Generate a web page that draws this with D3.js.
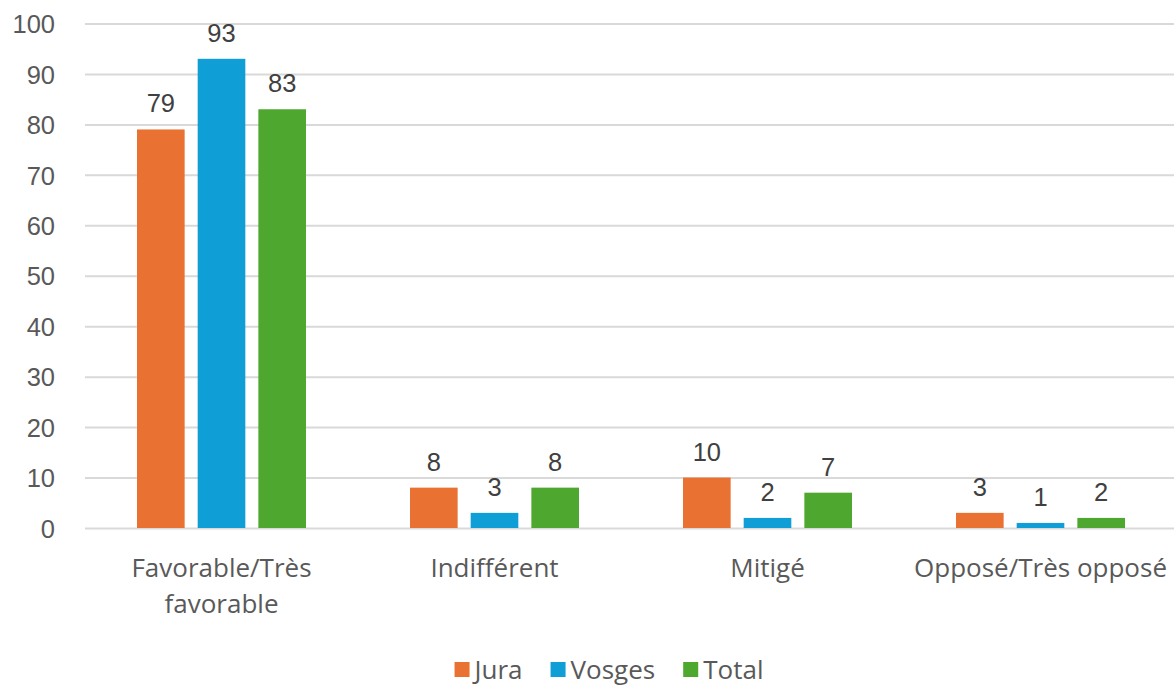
<!DOCTYPE html>
<html><head><meta charset="utf-8">
<script src="https://cdn.jsdelivr.net/npm/d3@7"></script>
<style>body{margin:0;background:#fff}svg{display:block}</style>
</head><body>
<svg id="c" width="1174" height="688"></svg>
<script>
const categories = ["Favorable/Très favorable", "Indifférent", "Mitigé", "Opposé/Très opposé"];
const seriesNames = ["Jura", "Vosges", "Total"];
const jura = [79, 8, 10, 3];
const vosges = [93, 3, 2, 1];
const total = [83, 8, 7, 2];
const yTicks = [0, 10, 20, 30, 40, 50, 60, 70, 80, 90, 100];
const colors = ["#E97132", "#0F9ED5", "#4EA72E"];

(function () {
const series = [jura, vosges, total];
const svg = d3.select("#c");
const mLeft = 85, mRight = 1177, mTop = 23.5, mBottom = 528;
const y = d3.scaleLinear().domain([0, 100]).range([mBottom, mTop]);
const x0 = d3.scaleBand().domain(categories).range([mLeft, mRight]).paddingInner(0).paddingOuter(0);
const x1 = d3.scaleBand().domain(seriesNames).range([52, x0.bandwidth() - 52]).paddingInner(0.215).paddingOuter(0);
const numFont = "'Liberation Sans', Arial, sans-serif";
const txtFont = "'Open Sans', Lato, sans-serif";
const txtSize = 26;

// grid
const yAxis = d3.axisLeft(y).tickValues(yTicks).tickSize(-(1174 - mLeft)).tickPadding(30);
const g = svg.append("g").attr("transform", `translate(${mLeft},0)`).call(yAxis);
g.select(".domain").remove();
g.selectAll(".tick line").attr("stroke", "#d9d9d9").attr("stroke-width", 2);
g.selectAll(".tick text").attr("fill", "#595959").attr("font-size", 25.5).attr("font-family", numFont).attr("dy", "0.36em");

// bars
const groups = svg.append("g").selectAll("g").data(categories).join("g")
  .attr("transform", d => `translate(${x0(d)},0)`);
seriesNames.forEach((s, si) => {
  groups.append("rect")
    .attr("x", x1(s)).attr("width", x1.bandwidth())
    .attr("y", (d, i) => y(series[si][i]))
    .attr("height", (d, i) => y(0) - y(series[si][i]))
    .attr("fill", colors[si]);
  groups.append("text")
    .attr("x", x1(s) + x1.bandwidth() / 2)
    .attr("y", (d, i) => y(series[si][i]) - 17)
    .attr("text-anchor", "middle")
    .attr("font-family", numFont).attr("font-size", 25.5).attr("fill", "#404040")
    .text((d, i) => series[si][i]);
});

// category labels
const xAxis = svg.append("g");
categories.forEach(c => {
  const cx = x0(c) + x0.bandwidth() / 2;
  const t = xAxis.append("text").attr("x", cx).attr("y", 577).attr("text-anchor", "middle")
    .attr("font-family", txtFont).attr("font-size", txtSize).attr("fill", "#595959");
  const words = c.split(" ");
  let line = [], lines = [];
  const probe = svg.append("text").attr("font-family", txtFont).attr("font-size", txtSize);
  words.forEach(w => {
    const test = line.concat([w]).join(" ");
    probe.text(test);
    if (probe.node().getComputedTextLength() > 272 && line.length) { lines.push(line.join(" ")); line = [w]; }
    else line.push(w);
  });
  lines.push(line.join(" "));
  probe.remove();
  lines.forEach((l, i) => t.append("tspan").attr("x", cx).attr("dy", i ? 36 : 0).text(l));
});

// legend
const legend = svg.append("g");
let lx = 0;
seriesNames.forEach((s, i) => {
  const it = legend.append("g");
  it.append("rect").attr("x", 0).attr("y", 662).attr("width", 15).attr("height", 15).attr("fill", colors[i]);
  const tx = it.append("text").attr("x", 20).attr("y", 679).attr("font-family", txtFont).attr("font-size", txtSize).attr("fill", "#595959").text(s);
  const w = 20 + tx.node().getComputedTextLength();
  it.attr("transform", `translate(${lx},0)`);
  lx += w + 28;
});
const lw = lx - 28;
legend.attr("transform", `translate(${(1174 - lw) / 2 + 22},0)`);
})();
</script>
</body></html>
